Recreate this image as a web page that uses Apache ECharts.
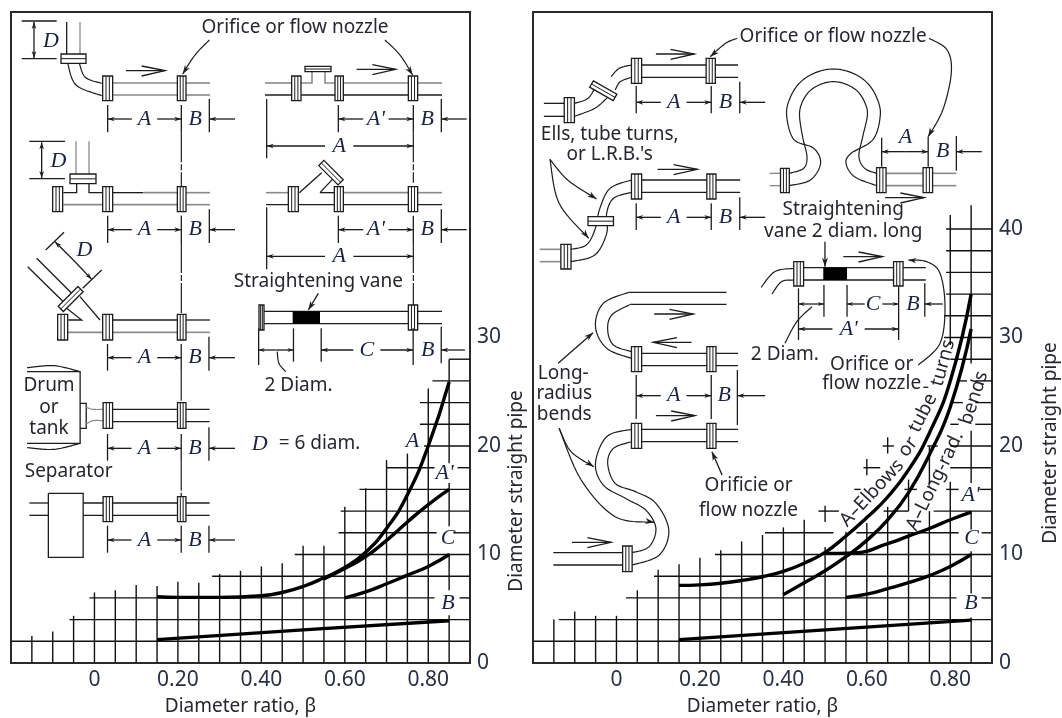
<!DOCTYPE html>
<html><head><meta charset="utf-8">
<script src="https://cdn.jsdelivr.net/npm/echarts@6/dist/echarts.min.js"></script>
<style>html,body{margin:0;background:#fff}#c{width:1062px;height:718px}</style></head>
<body><div id="c"></div>
<script>
// ---- chart data ----
const leftBeta   = [0.15,0.20,0.30,0.40,0.45,0.50,0.55,0.60,0.65,0.70,0.75,0.80,0.85];
const leftA      = [6.1,6.05,6.05,6.2,6.5,7.05,7.85,8.8,10.2,12.4,15.5,20.0,25.9];
const leftAPBeta = [0.55,0.60,0.65,0.70,0.75,0.80,0.85];
const leftAP     = [7.75,8.7,9.8,11.3,13.0,14.6,16.0];
const leftCBeta  = [0.60,0.65,0.70,0.75,0.80,0.85];
const leftC      = [6.0,6.55,7.3,8.1,8.9,10.0];
const leftBBeta  = [0.15,0.50,0.85];
const leftB      = [2.15,3.05,3.9];
const rightElbBeta = [0.15,0.20,0.25,0.30,0.35,0.40,0.45,0.50,0.55,0.60,0.65,0.70,0.75,0.80,0.85];
const rightElb     = [7.15,7.2,7.35,7.6,7.95,8.45,9.2,10.2,11.7,13.4,15.3,17.8,21.2,26.0,34.0];
const rightLRBeta  = [0.40,0.45,0.50,0.55,0.60,0.65,0.70,0.75,0.80,0.85];
const rightLR      = [6.3,7.4,8.5,9.8,11.3,13.2,15.7,19.2,23.6,30.8];
const rightAPBeta  = [0.50,0.57,0.65,0.70,0.75,0.80,0.85];
const rightAP      = [10.1,10.15,11.0,11.7,12.4,13.2,13.9];
const rightCBeta   = [0.55,0.60,0.65,0.70,0.75,0.80,0.85];
const rightC       = [6.05,6.35,6.85,7.4,8.05,8.9,10.0];
const rightBBeta   = [0.15,0.50,0.85];
const rightB       = [2.15,3.05,3.95];
// chart-paper grid: [beta, from, to]
const leftVert = [[-0.15,0,2.5],[-0.1,0,2.9],[-0.05,0,4.35],[0,0,6.5],[0.05,0,6.7],[0.1,0,7.2],[0.15,0,7.1],[0.2,0,7.5],[0.25,0,7.4],[0.3,0,8.2],[0.35,0,8.5],[0.4,0,8.9],[0.45,0,9.2],[0.5,0,10.8],[0.55,0,10.8],[0.6,0,14.4],[0.65,0,16.1],[0.7,0,18.7],[0.75,0,19.3],[0.8,0,25.3],[0.85,0,4.4],[0.85,6.7,10.1],[0.85,12.6,16.6],[0.85,18.4,28]];
// [value, fromBeta, toBeta]
const leftHoriz = [[2,-0.2,0.9],[4,-0.06,0.9],[6,-0.012,0.815],[6,0.875,0.9],[8,0.282,0.9],[10,0.48,0.9],[12,0.585,0.82],[12,0.86,0.9],[14,0.59,0.9],[16,0.635,0.9],[18,0.70,0.815],[18,0.87,0.9],[20,0.79,0.9],[22,0.78,0.9],[24,0.78,0.9],[26,0.81,0.9],[28,0.85,0.9]];
const rightVert = [[-0.15,0,4],[-0.1,0,4.75],[-0.05,0,4.35],[0,0,4.35],[0.05,0,6.7],[0.1,0,8.6],[0.15,0,9.1],[0.2,0,9.7],[0.25,0,10.4],[0.3,0,11.2],[0.35,0,11.8],[0.4,0,12.5],[0.45,0,13.2],[0.5,0,10.7],[0.5,13,14.5],[0.55,0,12.1],[0.6,0,12.9],[0.6,17.3,18.8],[0.65,0,14.4],[0.65,19.3,20.8],[0.7,0,12],[0.7,14,16.9],[0.75,0,14],[0.75,16.5,20],[0.8,0,16.7],[0.8,29.3,41.3],[0.85,0,4.2],[0.85,6.4,10.3],[0.85,12.3,14],[0.85,16.6,21.4],[0.85,27.6,42.2]];
const rightHoriz = [[2,-0.2,0.9],[4,-0.138,0.9],[6,0.023,0.815],[6,0.875,0.9],[8,0.09,0.9],[10,0.236,0.9],[12,0.356,0.52],[12,0.575,0.82],[12,0.875,0.9],[14,0.484,0.533],[14,0.64,0.70],[14,0.76,0.9],[16,0.57,0.585],[16,0.69,0.72],[16,0.79,0.82],[16,0.87,0.9],[18,0.592,0.632],[18,0.80,0.9],[20,0.638,0.665],[20,0.745,0.77],[20,0.80,0.9],[22,0.80,0.82],[22,0.86,0.9],[24,0.80,0.83],[24,0.86,0.9],[26,0.82,0.84],[26,0.86,0.9],[28,0.80,0.9],[30,0.785,0.9],[32,0.785,0.9],[34,0.79,0.9],[36,0.79,0.9],[38,0.79,0.9],[40,0.79,0.9]];
const yTickMaxLeft = 30, yTickMaxRight = 40;
const xAxisTitle = 'Diameter ratio, β', yAxisTitle = 'Diameter straight pipe';

// ---- helpers for the piping sketches ----
const SANS='"Noto Sans"', SERIF='"Liberation Serif"';
const INK='#1c1c1c', GRAY='#8a8a8a', TXT=19;
const T1=(x,y)=>[x/3,y/3];
const T2=(x,y)=>[x*0.3381,320+y/3];
const T3=(x,y)=>[533+(x-8)*0.3395,y/3];
const T4=(x,y)=>[533+(x-8)*0.3395,320+y/3];
const T6=(x,y)=>[780+x/3,200+y/3];
const PX=(x,y)=>[x,y];
const els=[];
function pts(T,a){const r=[];for(let i=0;i<a.length;i+=2)r.push(T(a[i],a[i+1]));return r;}
function spline(p){const o=[];for(let i=0;i<p.length-1;i++){const a=p[Math.max(i-1,0)],b=p[i],c=p[i+1],d=p[Math.min(i+2,p.length-1)];
  for(let k=0;k<12;k++){const t=k/12,t2=t*t,t3=t2*t;o.push([0,1].map(j=>0.5*(2*b[j]+(c[j]-a[j])*t+(2*a[j]-5*b[j]+4*c[j]-d[j])*t2+(3*b[j]-a[j]-3*c[j]+d[j])*t3)));}}
  o.push(p[p.length-1]);return o;}
function L(T,a,c,w,dash){els.push({type:'polyline',silent:true,shape:{points:pts(T,a)},style:{stroke:c||INK,lineWidth:w||1.3,fill:null,lineDash:dash||null}});}
function S(T,a,c,w){els.push({type:'polyline',silent:true,shape:{points:spline(pts(T,a))},style:{stroke:c||INK,lineWidth:w||1.2,fill:null}});}
function Poly(p,fill,stroke,w){els.push({type:'polygon',silent:true,shape:{points:p},style:{fill:fill,stroke:stroke||null,lineWidth:w||1.3}});}
function head(T,x1,y1,x2,y2,size){const a=T(x1,y1),b=T(x2,y2),s=size||7;const d=Math.hypot(b[0]-a[0],b[1]-a[1])||1;const ux=(b[0]-a[0])/d,uy=(b[1]-a[1])/d;
  Poly([b,[b[0]-ux*s-uy*s*0.33,b[1]-uy*s+ux*s*0.33],[b[0]-ux*s*0.7,b[1]-uy*s*0.7],[b[0]-ux*s+uy*s*0.33,b[1]-uy*s-ux*s*0.33]],INK);}
function Ar(T,x1,y1,x2,y2,size){L(T,[x1,y1,x2,y2]);head(T,x1,y1,x2,y2,size);}
function SA(T,a,size){S(T,a);const n=a.length;head(T,a[n-4],a[n-3],a[n-2],a[n-1],size||9);}
function flow(T,x1,y,x2){L(T,[x1,y,x2,y]);const d=x2>x1?1:-1;L(T,[x2-d*70,y-14,x2,y,x2-d*70,y+16]);}
function F(T,x1,x2,y1,y2,c){const p=pts(T,[x1,y1,x2,y1,x2,y2,x1,y2]);Poly(p,'#fff',c||INK);const a=(x2-x1)/3;L(T,[x1+a,y1,x1+a,y2],c,1);L(T,[x2-a,y1,x2-a,y2],c,1);}
function H(T,x1,x2,y1,y2){const p=pts(T,[x1,y1,x2,y1,x2,y2,x1,y2]);Poly(p,'#fff',INK);const m=(y1+y2)/2;L(T,[x1,m,x2,m],INK,1);}
function R(T,cx,cy,len,wid,deg){const r=deg*Math.PI/180,ux=Math.cos(r),uy=Math.sin(r),vx=-uy,vy=ux,l=len/2,w=wid/2;
  const c=[cx-ux*l-vx*w,cy-uy*l-vy*w,cx+ux*l-vx*w,cy+uy*l-vy*w,cx+ux*l+vx*w,cy+uy*l+vy*w,cx-ux*l+vx*w,cy-uy*l+vy*w];
  Poly(pts(T,c),'#fff',INK);L(T,[cx-ux*l,cy-uy*l,cx+ux*l,cy+uy*l],INK,1);}
function txt(T,x,y,s,o){o=o||{};const p=T(x,y);els.push({type:'text',silent:true,x:p[0],y:p[1],rotation:(o.rot||0)*Math.PI/180,style:{text:s,fill:o.c||'#26262e',font:(o.it?'italic ':'')+(o.size||TXT)+'px '+(o.f||SANS),textAlign:'center',textVerticalAlign:'middle',verticalAlign:'middle'}});}
function it(T,x,y,s,size){txt(T,x,y,s,{it:true,f:SERIF,size:size||22,c:'#1b2340'});}
function dim(T,xl,xm,xr,y,tt,tb,rt,xe,la){la=la||'A';const ma=(xl+xm)/2,mb=(xm+xr)/2;
  L(T,[xl,tt,xl,tb]);L(T,[xm,tt,xm,tb]);L(T,[xr,rt,xr,tb]);
  Ar(T,ma-38,y,xl,y);Ar(T,ma+38,y,xm,y);it(T,ma,y,la);it(T,mb,y,'B');Ar(T,xe,y,xr,y);}

// ---- left panel sketches ----
txt(T1,885,82,'Orifice or flow nozzle');
SA(T1,[628,120,585,165,548,222]);SA(T1,[1155,120,1200,165,1238,225]);
// row 1 left
L(T1,[65,63,170,63]);L(T1,[65,176,170,176]);Ar(T1,102,120,102,66);Ar(T1,102,120,102,174);it(T1,153,123,'D');
L(T1,[200,66,200,162]);L(T1,[240,66,240,162],GRAY);H(T1,183,258,162,190);
S(T1,[203,190,228,255,305,287]);S(T1,[238,190,256,232,305,250]);
L(T1,[338,249,532,249],GRAY,1.6);L(T1,[338,285,532,285],GRAY,1.6);L(T1,[558,249,630,249],GRAY,1.6);L(T1,[558,285,630,285],GRAY,1.6);
F(T1,308,338,228,302);F(T1,532,558,228,302);flow(T1,378,212,495);
dim(T1,323,544,628,357,315,397,297,705);
// row 1 right
L(T1,[795,249,875,249],GRAY,1.6);L(T1,[903,249,936,249,936,215],GRAY,1.6);L(T1,[975,215,975,249,1003,249],GRAY,1.6);L(T1,[1030,249,1225,249],GRAY,1.6);L(T1,[1253,249,1326,249],GRAY,1.6);
L(T1,[795,285,1326,285]);H(T1,915,993,199,215);
F(T1,875,903,228,302);F(T1,1005,1030,228,302);F(T1,1225,1253,228,302);flow(T1,1070,208,1187);
dim(T1,1015,1240,1324,357,315,397,297,1400,"A'");
L(T1,[800,297,800,475]);Ar(T1,975,438,800,438);Ar(T1,1060,438,1240,438);it(T1,1018,438,'A');
L(T1,[544,397,544,558],INK,1.2,[30,2,6,2]);L(T1,[1240,397,1240,548],INK,1.2,[30,2,6,2]);
// row 2 left
L(T1,[88,424,195,424]);L(T1,[88,536,195,536]);Ar(T1,125,480,125,427);Ar(T1,125,480,125,534);it(T1,175,483,'D');
L(T1,[228,424,228,522],GRAY);L(T1,[267,424,267,522],GRAY);
L(T1,[190,578,230,578,230,551]);L(T1,[267,551,267,578,308,578]);L(T1,[190,614,308,614],GRAY,1.6);
L(T1,[338,578,430,578]);L(T1,[430,578,532,578],GRAY,1.6);L(T1,[338,614,532,614],GRAY,1.6);L(T1,[558,578,630,578],GRAY,1.6);L(T1,[558,614,630,614],GRAY,1.6);
H(T1,210,288,522,551);F(T1,158,188,560,635);F(T1,308,338,560,635);F(T1,532,558,560,635);
dim(T1,323,544,628,689,647,729,628,705);
// row 2 right
L(T1,[798,578,865,578],GRAY,1.6);L(T1,[898,578,965,518]);L(T1,[960,578,1000,535]);L(T1,[960,578,1003,578]);L(T1,[1030,578,1225,578],GRAY,1.6);L(T1,[1253,578,1326,578],GRAY,1.6);
L(T1,[798,614,1326,614]);R(T1,993,518,82,22,45);
F(T1,865,895,560,635);F(T1,1003,1030,560,635);F(T1,1225,1253,560,635);
dim(T1,1015,1240,1324,689,647,729,628,1400,"A'");
L(T1,[800,622,800,808]);Ar(T1,975,769,800,769);Ar(T1,1060,769,1240,769);it(T1,1018,769,'A');
L(T1,[544,729,544,942],INK,1.2,[30,2,6,2]);L(T1,[1240,729,1240,915],INK,1.2,[30,2,6,2]);
// vane
txt(T1,955,845,'Straightening vane');Ar(T1,955,880,925,930,9);
L(T1,[792,934,1326,934]);L(T1,[792,971,1326,971]);
F(T1,777,792,915,990);F(T1,1225,1253,915,990);
els.push({type:'polygon',silent:true,shape:{points:pts(T1,[878,934,960,934,960,971,878,971])},style:{fill:'#000'}});
L(T2,[765,25,765,135]);L(T2,[868,25,868,125]);L(T2,[950,25,950,125]);L(T2,[1222,25,1222,135]);L(T2,[1305,20,1305,130]);
Ar(T2,815,90,765,90,6);Ar(T2,815,90,868,90,6);S(T2,[820,95,825,130,845,155]);txt(T2,883,198,'2 Diam.');
Ar(T2,1045,90,950,90);Ar(T2,1125,90,1222,90);it(T2,1085,90,'C');it(T2,1265,90,'B');Ar(T2,1375,90,1305,90);
// row 3 left
L(T1,[137,750,192,697]);L(T1,[248,865,305,810]);Ar(T1,220,780,165,725);Ar(T1,220,780,275,838);it(T1,253,750,'D');
L(T1,[83,800,190,905]);L(T1,[110,775,215,880]);L(T1,[200,925,245,960,205,960]);L(T1,[240,890,300,960]);R(T1,212,897,84,22,-45);
L(T1,[338,960,532,960]);L(T1,[558,960,630,960]);L(T1,[203,997,308,997],GRAY,1.6);L(T1,[338,997,532,997],GRAY,1.6);L(T1,[558,997,630,997],GRAY,1.6);
F(T1,173,203,943,1020);F(T1,308,338,943,1020);F(T1,532,558,943,1020);
dim(T2,318,536,618,113,72,152,50,695);
L(T2,[536,152,536,250],INK,1.2,[30,2,6,2]);
// drum
S(T2,[80,143,160,137,237,155]);L(T2,[80,155,237,155,237,370,80,370]);S(T2,[80,383,160,388,237,370]);
txt(T2,145,198,'Drum');txt(T2,145,262,'or');txt(T2,145,325,'tank');
L(T2,[237,250,255,250,255,325,237,325]);S(T2,[255,262,275,268,305,268],GRAY);S(T2,[255,312,275,302,305,302],GRAY);
L(T2,[333,268,620,268]);L(T2,[333,305,620,305]);F(T2,305,333,248,325);F(T2,525,550,248,325);
dim(T2,318,536,618,385,342,422,322,695);
txt(T2,768,372,'D',{it:true,f:SERIF,size:22,c:'#1b2340'});txt(T2,945,372,'= 6 diam.');
// separator
txt(T2,203,456,'Separator');L(T2,[536,422,536,530],INK,1.2,[30,2,6,2]);
L(T2,[87,549,143,549]);L(T2,[87,586,143,586]);L(T2,[246,549,620,549]);L(T2,[246,586,620,586]);
L(T2,[143,520,246,520,246,712,143,712,143,520]);F(T2,305,333,530,605);F(T2,525,550,530,605);
dim(T2,318,536,618,660,617,698,617,695);
// curve labels, left
it(T2,1220,365,'A');it(T2,1315,460,"A'");it(T2,1325,655,'C');it(T2,1325,850,'B');

// ---- right panel sketches ----
txt(T3,892,110,'Orifice or flow nozzle');SA(T3,[610,115,575,130,530,170]);SA(T3,[1175,115,1228,150,1240,220,1215,330,1172,410]);
// row 1
L(T3,[40,310,100,310]);L(T3,[40,349,100,349]);
S(T3,[130,310,170,295,195,255]);S(T3,[238,230,262,205,298,195]);S(T3,[130,349,190,325,228,292]);S(T3,[250,270,265,245,298,232]);
L(T3,[328,195,612,195]);L(T3,[328,232,612,232]);
F(T3,100,130,293,368);R(T3,215,272,80,22,30);F(T3,298,328,175,250);F(T3,518,545,175,250);flow(T3,370,162,483);
dim(T3,312,533,617,307,258,340,245,692);
// row 2
txt(T3,234,405,'Ells, tube turns,');txt(T3,234,465,"or L.R.B.'s");
SA(T3,[58,478,110,540,195,597]);SA(T3,[58,478,85,610,172,715]);
L(T3,[28,748,90,748],GRAY,1.6);L(T3,[28,785,90,785],GRAY,1.6);
S(T3,[120,748,165,735,190,690,205,625,235,565,298,540]);S(T3,[120,785,190,765,225,700,225,640,245,595,298,577]);
L(T3,[328,540,618,540]);L(T3,[328,577,618,577]);
F(T3,90,120,733,807);H(T3,170,245,650,677);F(T3,298,328,522,597);F(T3,520,547,522,597);flow(T3,375,508,492);
dim(T3,312,533,617,652,610,690,592,692);
// omega loop
L(T3,[705,520,737,520],GRAY);L(T3,[705,557,737,557],GRAY);
S(T3,[763,557,825,540,855,490,835,445,776,418,755,345,766,292,795,247,840,218,893,207,946,218,991,247,1020,292,1031,345,1010,418,945,460,930,490,955,530,1020,557]);
S(T3,[763,520,805,505,815,470,802,410,793,345,801,307,822,274,855,253,893,245,931,253,964,274,985,307,993,345,978,415,968,470,985,505,1020,520]);
L(T3,[1048,520,1157,520],GRAY,1.6);L(T3,[1048,557,1157,557],GRAY,1.6);L(T3,[1185,520,1255,520],GRAY,1.6);L(T3,[1185,557,1255,557],GRAY,1.6);
F(T3,737,763,505,578);F(T3,1020,1048,503,578);F(T3,1157,1185,503,578);flow(T3,1045,593,1160);
L(T3,[1035,413,1035,500]);L(T3,[1172,410,1172,500]);L(T3,[1255,408,1255,512]);
Ar(T3,1105,455,1035,455);Ar(T3,1105,455,1172,455);it(T3,1105,413,'A');it(T3,1215,455,'B');Ar(T3,1330,455,1255,455);
// vane
txt(T3,922,630,'Straightening');txt(T3,922,695,'vane 2 diam. long');Ar(T3,868,725,868,800,9);
S(T3,[680,862,720,815,776,805]);S(T3,[712,882,740,845,776,840]);
L(T3,[805,803,1165,803]);L(T3,[805,840,1165,840]);
els.push({type:'polygon',silent:true,shape:{points:pts(T3,[863,803,933,803,933,840,863,840])},style:{fill:'#000'}});
F(T3,776,805,785,858);F(T3,1070,1098,785,858);flow(T3,922,770,1037);
L(T3,[790,865,790,1020]);L(T3,[865,855,865,950]);L(T3,[933,855,933,950]);L(T3,[1085,860,1085,1020]);L(T3,[1162,850,1162,950]);
Ar(T3,828,912,790,912,6);Ar(T3,828,912,865,912,6);Ar(T3,985,912,933,912,6);Ar(T3,1037,912,1085,912,6);it(T3,1010,912,'C');it(T3,1127,912,'B');Ar(T3,1215,912,1162,912);
Ar(T3,890,987,790,987);Ar(T3,985,987,1085,987);it(T3,938,987,"A'");
S(T3,[830,920,785,965,750,1030]);txt(T4,750,105,'2 Diam.');
SA(T6,[415,495,480,430,495,320,480,220,440,185,385,180],8);
txt(T6,275,495,'Orifice or');txt(T6,275,552,'flow nozzle');L(T6,[430,562,445,562]);
// U bend
L(T3,[290,877,578,877]);L(T3,[295,913,578,913]);
S(T3,[298,1075,225,1045,192,980,215,910,290,877]);
S(T3,[298,1055,245,1035,228,990,240,945,295,913]);
L(T4,[328,100,612,100]);L(T4,[328,137,612,137]);F(T4,298,328,80,155);F(T4,520,547,80,155);
flow(T3,365,942,480);flow(T4,475,67,362);
dim(T4,312,533,610,227,165,297,150,692);L(T4,[610,297,610,315]);
// S bend
flow(T4,370,287,485);L(T4,[328,328,612,328]);L(T4,[328,365,612,365]);
S(T4,[298,328,225,350,192,430,215,495,280,535,340,570,370,625,350,680,300,698]);
S(T4,[298,365,245,385,228,430,250,490,310,515,370,550,408,630,380,705,300,735]);
L(T4,[68,698,272,698]);L(T4,[68,735,272,735]);
F(T4,298,328,310,385);F(T4,520,547,310,385);F(T4,272,300,678,755);flow(T4,123,667,238);
txt(T4,97,160,'Long-');txt(T4,100,222,'radius');txt(T4,100,285,'bends');
Ar(T4,82,130,185,38,9);SA(T4,[85,325,120,395,187,440]);SA(T4,[85,325,150,480,250,590,365,607]);
Ar(T4,565,465,535,395,9);txt(T4,643,497,'Orificie or');txt(T4,643,572,'flow nozzle');
// curve labels, right
it(T4,1297,525,"A'");it(T4,1300,655,'C');it(T4,1298,850,'B');
txt(PX,872,493,'A–Elbows',{rot:47});txt(PX,908,447,'or',{rot:53});txt(PX,923,413,'tube',{rot:63});txt(PX,943,363,'turns',{rot:75});
txt(PX,935,481,'A–Long-rad.',{rot:64});txt(PX,974,398,'bends',{rot:72});
// y axis titles
els.push({type:'text',silent:true,x:517,y:491,rotation:Math.PI/2,style:{text:yAxisTitle,fill:'#26262e',font:'19px '+SANS,textAlign:'center',textVerticalAlign:'middle',verticalAlign:'middle'}});
els.push({type:'text',silent:true,x:1051,y:443,rotation:Math.PI/2,style:{text:yAxisTitle,fill:'#26262e',font:'19px '+SANS,textAlign:'center',textVerticalAlign:'middle',verticalAlign:'middle'}});

// ---- chart ----
function zip(a,b){return a.map((v,i)=>[v,b[i]]);}
function segV(list){return list.map(s=>[s[0],s[1],s[0],s[2]]);}
function segH(list){return list.map(s=>[s[1],s[0],s[2],s[0]]);}
function gridSeries(idx,data){return {type:'custom',xAxisIndex:idx,yAxisIndex:idx,silent:true,z:1,clip:false,encode:{x:[0,2],y:[1,3]},data:data,
  renderItem:(p,api)=>{const a=api.coord([api.value(0),api.value(1)]),b=api.coord([api.value(2),api.value(3)]);
    return {type:'line',shape:{x1:a[0],y1:a[1],x2:b[0],y2:b[1]},style:{stroke:'#111',lineWidth:1.4}};}};}
function curve(idx,xs,ys){return {type:'line',xAxisIndex:idx,yAxisIndex:idx,data:zip(xs,ys),smooth:0.5,showSymbol:false,silent:true,z:3,lineStyle:{color:'#000',width:3.4,cap:'butt'}};}
function xAxis(idx){return {type:'value',gridIndex:idx,min:-0.2,max:0.9,interval:0.2,splitLine:{show:false},axisTick:{show:false},axisLine:{show:false},
  name:xAxisTitle,nameLocation:'middle',nameGap:34,nameTextStyle:{fontFamily:'Noto Sans',fontSize:19,color:'#26262e'},
  axisLabel:{margin:7,fontFamily:'Noto Sans',fontSize:21,color:'#2a2f45',hideOverlap:false,formatter:v=>(v<-0.01||v>0.85)?'':(Math.abs(v)<1e-6?'0':v.toFixed(2))}};}
function yAxis(idx,maxT){return {type:'value',gridIndex:idx,position:'right',min:0,max:60,interval:10,splitLine:{show:false},axisTick:{show:false},axisLine:{show:false},
  axisLabel:{margin:7,fontFamily:'Noto Sans',fontSize:21,color:'#2a2f45',formatter:v=>v<=maxT?String(v):''}};}
const chart=echarts.init(document.getElementById('c'),null,{renderer:'canvas'});
chart.setOption({animation:false,backgroundColor:'#fff',
  grid:[{left:11,width:459,top:12,height:651,outerBoundsMode:'none',show:true,borderColor:'#2a2a2a',borderWidth:2,backgroundColor:'transparent'},
        {left:533,width:459,top:12,height:651,outerBoundsMode:'none',show:true,borderColor:'#2a2a2a',borderWidth:2,backgroundColor:'transparent'}],
  xAxis:[xAxis(0),xAxis(1)],yAxis:[yAxis(0,yTickMaxLeft),yAxis(1,yTickMaxRight)],
  series:[gridSeries(0,segV(leftVert).concat(segH(leftHoriz))),gridSeries(1,segV(rightVert).concat(segH(rightHoriz))),
    curve(0,leftBeta,leftA),curve(0,leftAPBeta,leftAP),curve(0,leftCBeta,leftC),curve(0,leftBBeta,leftB),
    curve(1,rightElbBeta,rightElb),curve(1,rightLRBeta,rightLR),curve(1,rightAPBeta,rightAP),curve(1,rightCBeta,rightC),curve(1,rightBBeta,rightB)],
  graphic:{elements:els}});
</script></body></html>
